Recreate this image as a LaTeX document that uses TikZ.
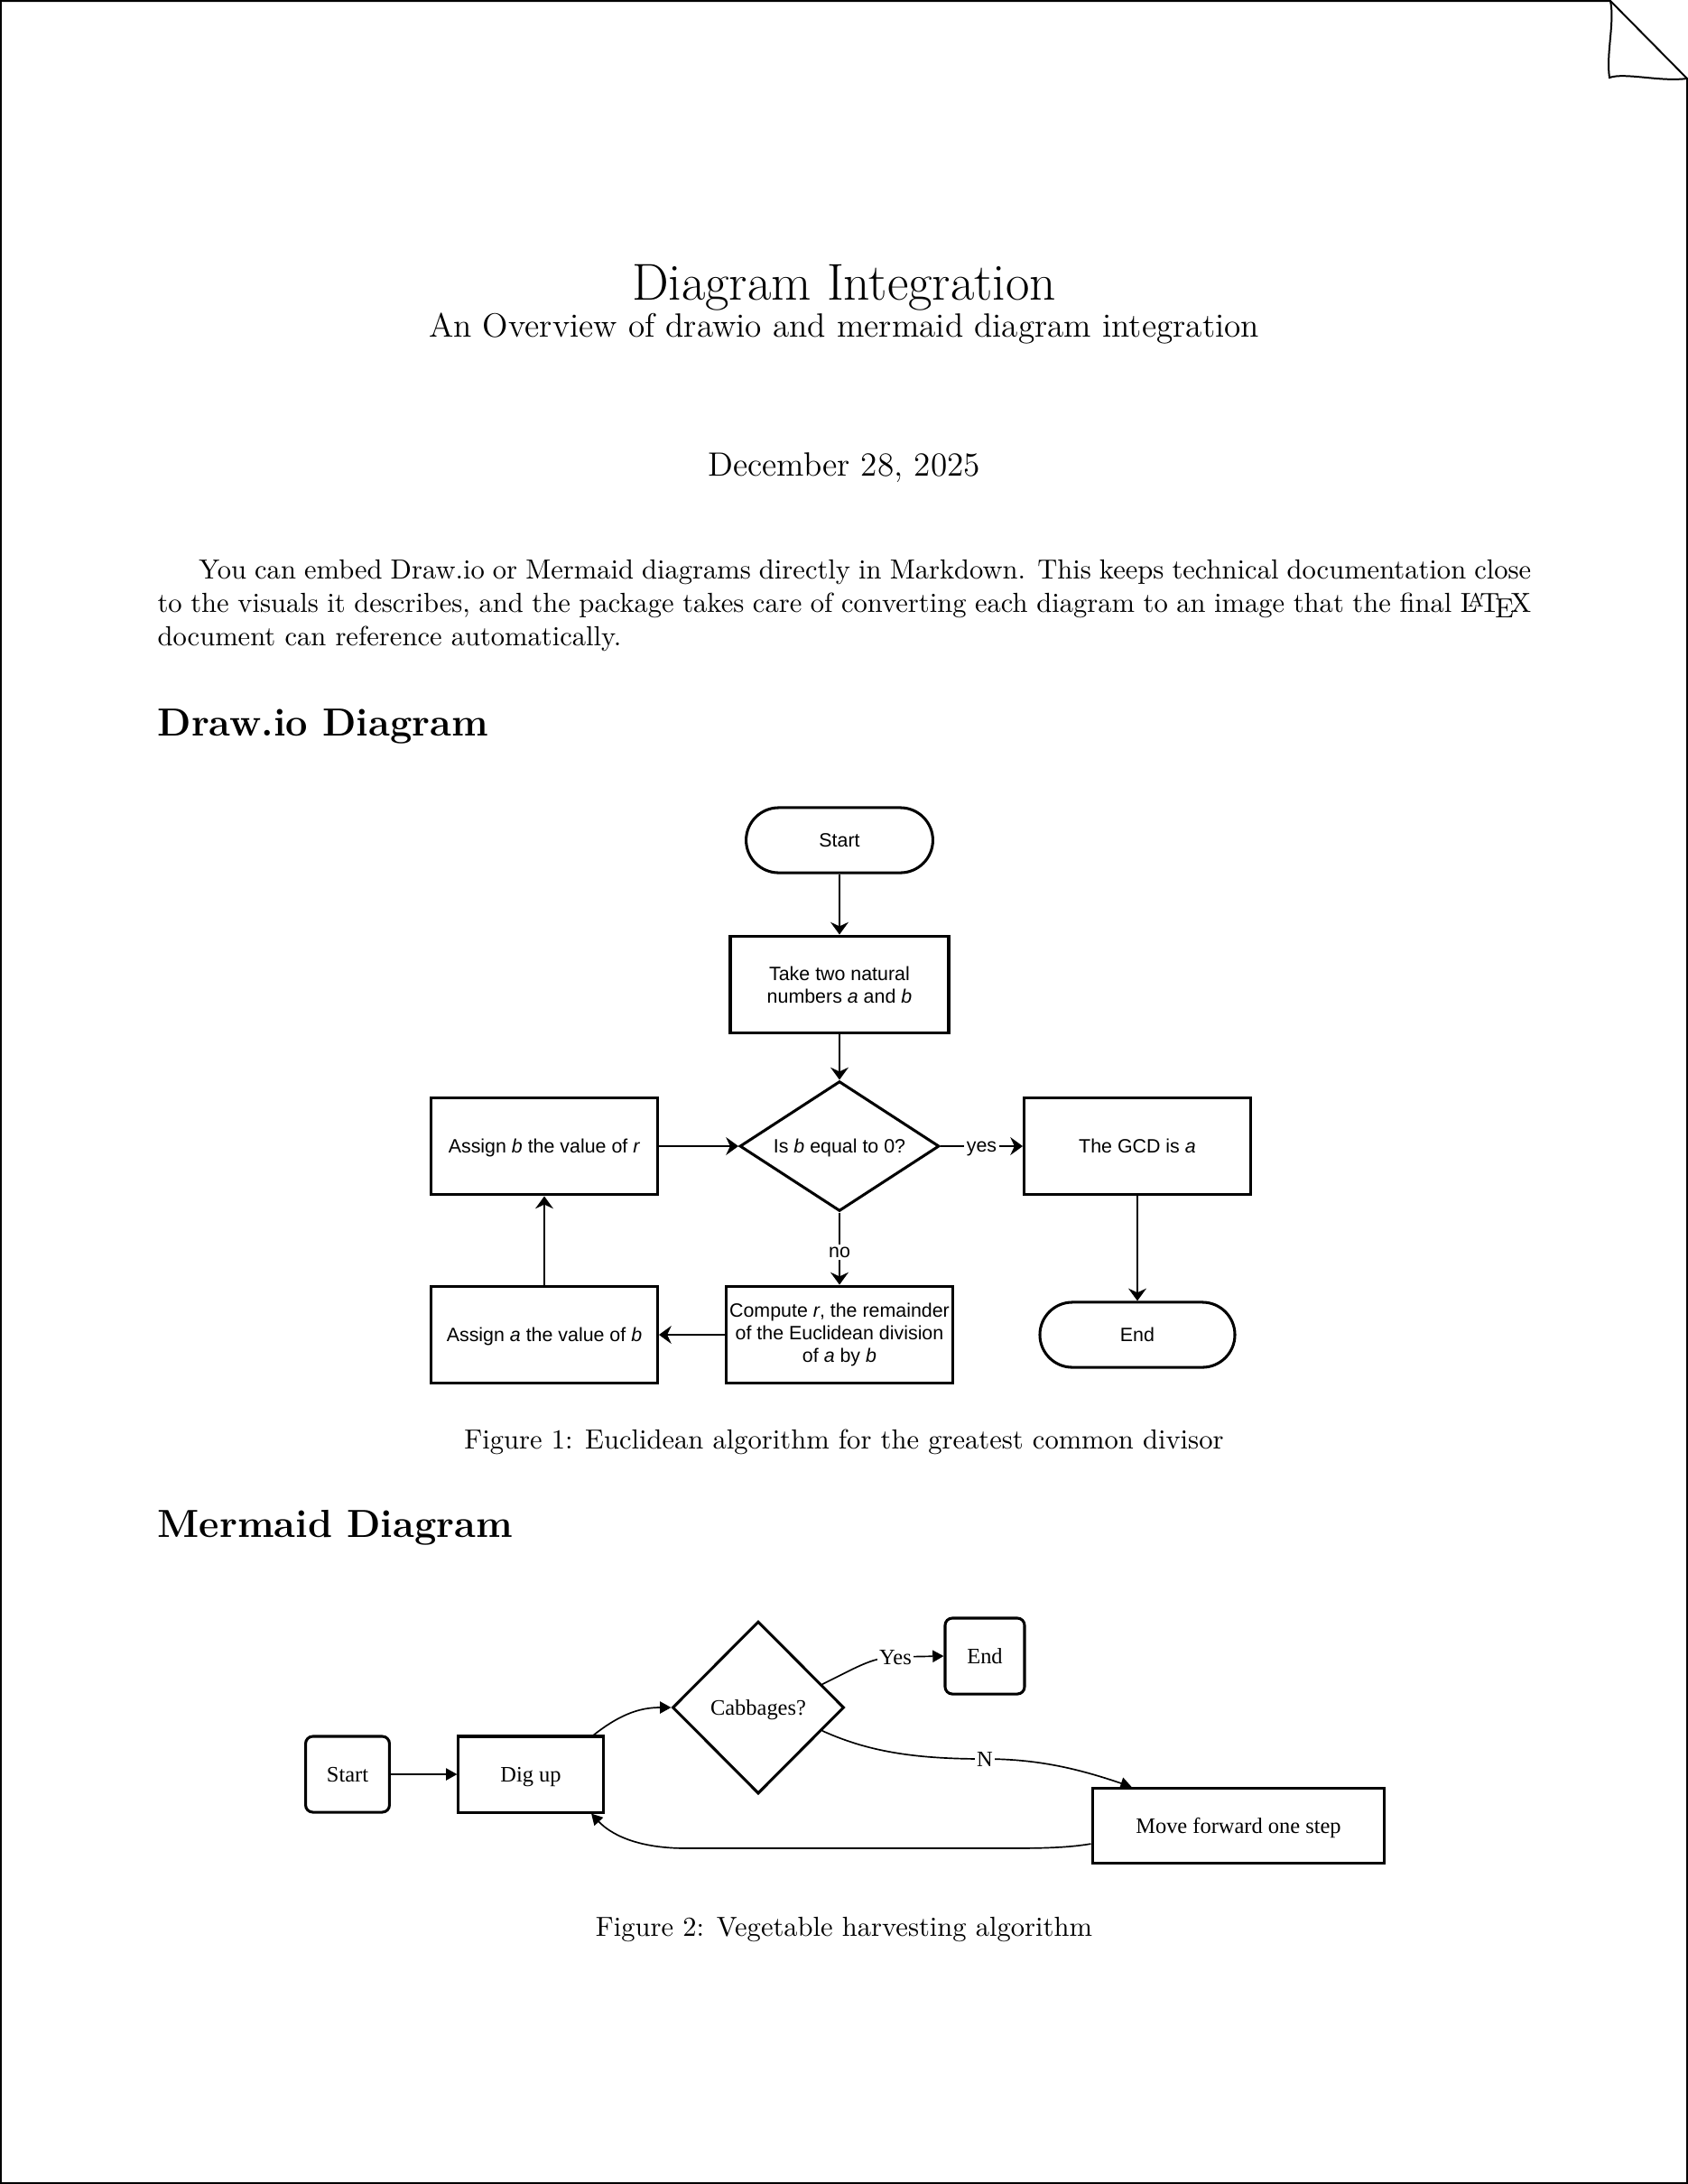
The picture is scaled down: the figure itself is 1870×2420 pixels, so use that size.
\documentclass[tikz,border=0pt]{standalone}
\usepackage{fontspec}
\newfontfamily\drawfont{Liberation Sans}
\newfontfamily\merfont{Liberation Serif}
\usetikzlibrary{shapes.geometric,arrows.meta}
\begin{document}
\begin{tikzpicture}[x=0.32727pt,y=-0.32727pt,
  txt/.style={inner sep=0pt, anchor=base},
  dfont/.style={font=\drawfont\fontsize{7}{8.2}\selectfont},
  dbox/.style={draw, line width=1pt, minimum width=82.1pt, minimum height=35.3pt, inner sep=1pt, align=center, dfont},
  done/.style={text height=5pt, text depth=0pt},
  dterm/.style={dbox, done, rounded corners=11.8pt, minimum width=67.7pt, minimum height=23.6pt},
  ddia/.style={draw, diamond, aspect=1.535, line width=1pt, minimum width=72.3pt, minimum height=47.1pt, inner sep=0pt, dfont, done},
  darr/.style={line width=0.65pt, -{Stealth[length=4.5pt,width=6.5pt,inset=1.5pt]}},
  dlab/.style={fill=white, inner sep=0.8pt, dfont, text height=4.2pt, text depth=0pt},
  mfont/.style={font=\merfont\fontsize{8}{9.6}\selectfont},
  mone/.style={text height=5.3pt, text depth=0pt},
  mbox/.style={draw, line width=1pt, minimum height=27.5pt, inner sep=1pt, mfont, mone},
  mround/.style={mbox, rounded corners=2.6pt},
  marr/.style={line width=0.55pt, -{Triangle[length=4pt,width=4.3pt]}},
  mlab/.style={fill=white, inner sep=0.8pt, mfont, mone},
  border/.style={line width=0.65pt}
]
\useasboundingbox (0,0) rectangle (1870,2420);
\fill[white] (0,0) rectangle (1870,2420);

% page outline with folded corner
\draw[border] (1784,1) -- (1,1) -- (1,2419) -- (1869,2419) -- (1869,87) -- cycle;
\draw[border] (1784,1) .. controls (1789,25) and (1779,60) .. (1783,86)
  .. controls (1800,80) and (1840,91) .. (1869,87);

% title block
\node[txt, font=\fontsize{18.8}{22}\selectfont] (title) at (935,332) {Diagram Integration};
\node[txt, font=\fontsize{12.2}{14}\selectfont] (subtitle) at (935,373) {An Overview of drawio and mermaid diagram integration};
\node[txt, font=\fontsize{12.2}{14}\selectfont] (date) at (935,527) {December 28, 2025};

% paragraph
\node[txt, anchor=base west] (p1) at (174,641) {\hbox to 498pt{\hskip15pt You can embed Draw.io or Mermaid diagrams directly in Markdown. This keeps technical documentation close}};
\node[txt, anchor=base west] (p2) at (174,678) {\hbox to 498pt{to the visuals it describes, and the package takes care of converting each diagram to an image that the final \LaTeX}};
\node[txt, anchor=base west] (p3) at (174,715) {document can reference automatically.};

% section 1
\node[txt, anchor=base west, font=\fontsize{14.2}{17}\selectfont\bfseries] (sec1) at (174,815) {Draw.io Diagram};

% drawio flowchart
\node[dterm] (dstart) at (930,931) {Start};
\node[dbox, minimum width=79.2pt] (dtake) at (930,1091) {Take two natural\\numbers \textit{a} and \textit{b}};
\node[ddia] (ddec) at (930,1270) {Is \textit{b} equal to 0?};
\node[dbox, done] (dassb) at (603,1270) {Assign \textit{b} the value of \textit{r}};
\node[dbox, done] (dgcd) at (1260,1270) {The GCD is \textit{a}};
\node[dbox] (dcomp) at (930,1479) {Compute \textit{r}, the remainder\\of the Euclidean division\\of \textit{a} by \textit{b}};
\node[dbox, done] (dassa) at (603,1479) {Assign \textit{a} the value of \textit{b}};
\node[dterm, minimum width=70.7pt] (dend) at (1260,1479) {End};

\draw[darr] (dstart) -- (dtake);
\draw[darr] (dtake) -- (ddec);
\draw[darr] (ddec) -- node[dlab] {yes} (dgcd);
\draw[darr] (ddec) -- node[dlab, pos=0.55] {no} (dcomp);
\draw[darr] (dcomp) -- (dassa);
\draw[darr] (dassa) -- (dassb);
\draw[darr] (dassb) -- (ddec);
\draw[darr] (dgcd) -- (dend);

\node[txt] (cap1) at (935,1605) {Figure 1: Euclidean algorithm for the greatest common divisor};

% section 2
\node[txt, anchor=base west, font=\fontsize{14.2}{17}\selectfont\bfseries] (sec2) at (174,1703) {Mermaid Diagram};

% mermaid flowchart
\node[mround, minimum width=30.4pt] (mstart) at (385,1966) {Start};
\node[mbox, minimum width=52.4pt] (mdig) at (588,1966) {Dig up};
\node[draw, diamond, line width=1pt, minimum width=62.2pt, minimum height=62.5pt, inner sep=0pt, mfont, mone] (mcab) at (840,1892) {Cabbages?};
\node[mround, minimum width=28.8pt] (mend) at (1091,1835) {End};
\node[mbox, minimum width=106pt, minimum height=27.2pt] (mmove) at (1372,2023) {Move forward one step};

\draw[marr] (mstart) -- (mdig);
\draw[marr] (mdig.32) .. controls (690,1897) and (712,1892) .. (mcab.west);
\draw[marr] (mcab.20) .. controls (945,1850) and (965,1836) .. (992,1836) node[mlab] {Yes} -- (mend.west);
\draw[marr] (mcab.-20) .. controls (960,1940) and (1010,1949) .. (1091,1949) node[mlab] {N}
  .. controls (1150,1949) and (1195,1960) .. (mmove.160);
\draw[marr] (mmove.187) .. controls (1185,2047) and (1160,2048) .. (1120,2048) -- (760,2048)
  .. controls (705,2048) and (676,2032) .. (mdig.-33);

\node[txt] (cap2) at (935,2145) {Figure 2: Vegetable harvesting algorithm};
\end{tikzpicture}
\end{document}
